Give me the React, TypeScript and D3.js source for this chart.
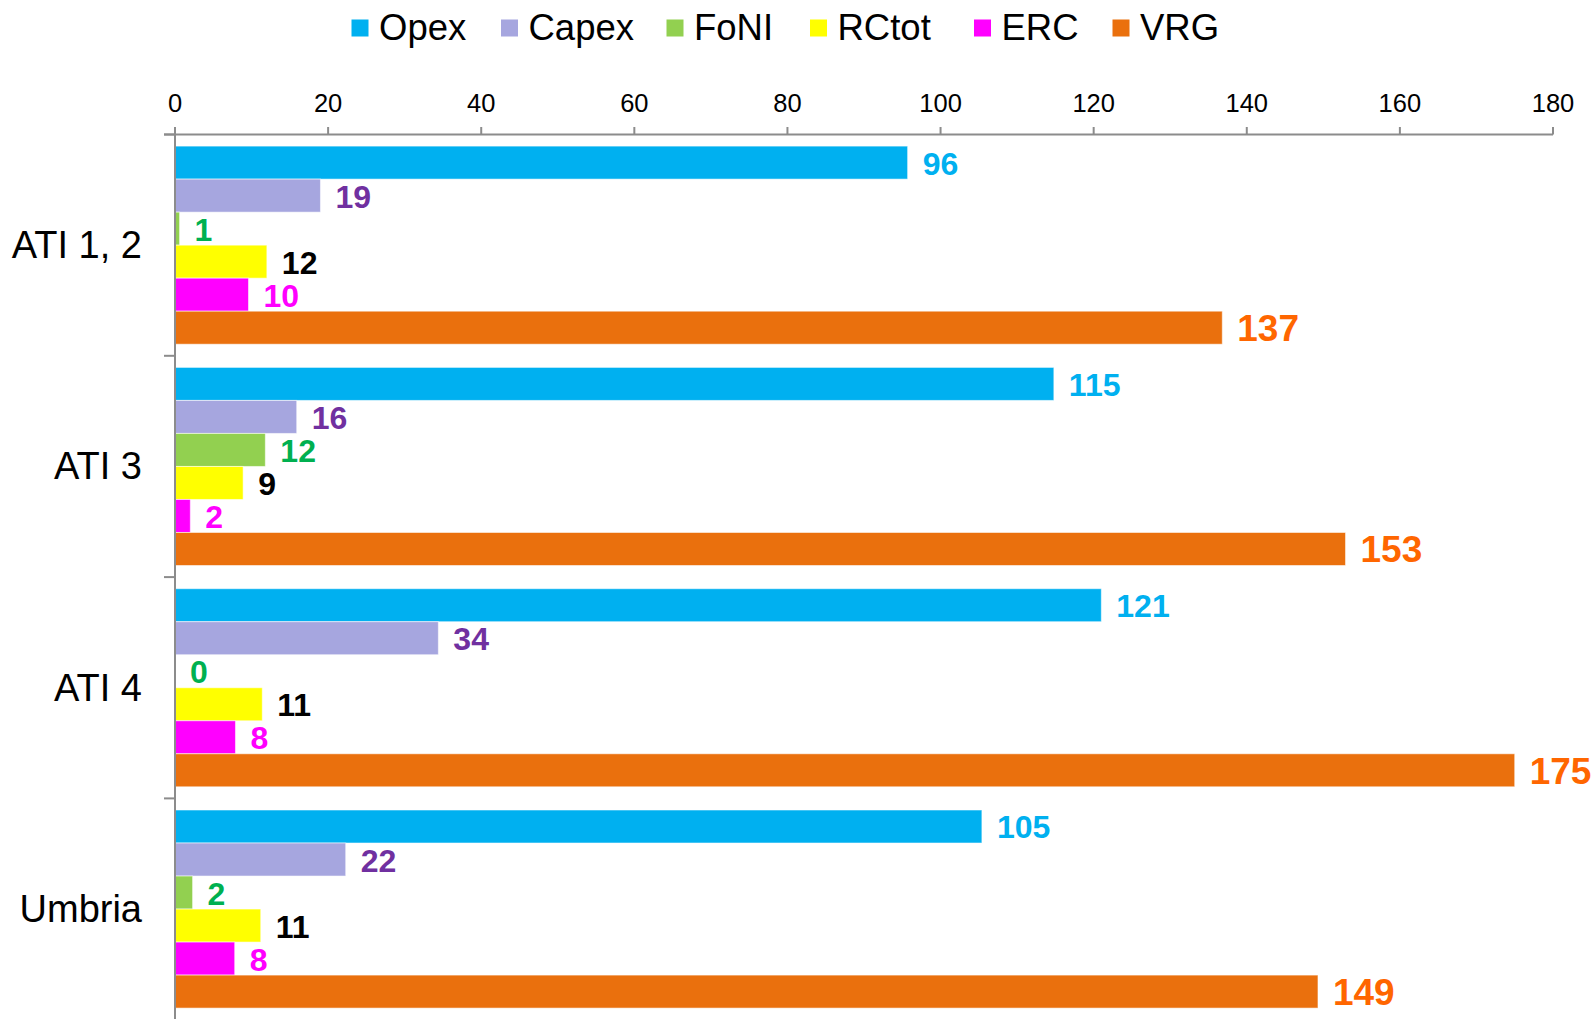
import React from "react";
import * as d3 from "d3";

const categories = ["ATI 1, 2", "ATI 3", "ATI 4", "Umbria"];
const seriesNames = ["Opex", "Capex", "FoNI", "RCtot", "ERC", "VRG"];
const opex = [95.7, 114.8, 121, 105.4];
const capex = [19, 15.9, 34.4, 22.3];
const foni = [0.6, 11.8, 0, 2.3];
const rctot = [12, 8.9, 11.4, 11.2];
const erc = [9.6, 2, 7.9, 7.8];
const vrg = [136.8, 152.9, 175, 149.3];
const xTicks = [0, 20, 40, 60, 80, 100, 120, 140, 160, 180];

const barColors = ["#00B0F0", "#A6A6DF", "#92D050", "#FFFF00", "#FF00FF", "#EA700D"];
const labelColors = ["#00B0F0", "#7030A0", "#00B050", "#000000", "#FF00FF", "#FF6600"];
const legendX = [351.5, 501, 666.5, 810, 974, 1112.5];

const W = 1593;
const H = 1019;
const FONT = "'Liberation Sans', Arial, sans-serif";

export default function App() {
  const seriesValues = [opex, capex, foni, rctot, erc, vrg];
  const x = d3.scaleLinear().domain([0, 180]).range([175, 1553]);
  const y0 = d3.scaleBand().domain(categories).range([134.5, 134.5 + 4 * 221.3]).paddingInner(0).paddingOuter(0);
  const bw = y0.bandwidth();
  const y1 = d3.scaleBand().domain(seriesNames).range([11.6, bw - 11.6]).padding(0);
  const axisColor = "#8C8C8C";

  return (
    <svg width={W} height={H} style={{ position: "absolute", left: 0, top: 0, background: "#fff" }} fontFamily={FONT}>
      {/* legend */}
      {seriesNames.map((s, i) => (
        <g key={s}>
          <rect x={legendX[i]} y={19.5} width={17} height={17} fill={barColors[i]} />
          <text x={legendX[i] + 27.5} y={39.5} fontSize={36.5} fill="#000">{s}</text>
        </g>
      ))}

      {/* bars */}
      {categories.map((c, ci) => (
        <g key={c} transform={`translate(0,${y0(c)})`}>
          {seriesNames.map((s, si) => {
            const v = seriesValues[si][ci];
            const yy = y1(s) as number;
            const h = y1.bandwidth();
            const isV = si === 5;
            return (
              <g key={s}>
                {v > 0 && (
                  <rect x={x(0)} y={yy} width={x(v) - x(0)} height={h} fill={barColors[si]} stroke="rgba(255,255,255,0.55)" strokeWidth={1} />
                )}
                <text
                  x={x(v) + 15}
                  y={yy + h / 2 + 1}
                  dominantBaseline="central"
                  fontSize={isV ? 37 : 32}
                  fontWeight="bold"
                  fill={labelColors[si]}
                >
                  {Math.round(v)}
                </text>
              </g>
            );
          })}
          <text x={142} y={bw / 2} dominantBaseline="central" textAnchor="end" fontSize={38} fill="#000">{c}</text>
        </g>
      ))}

      {/* x axis (top) */}
      <line x1={164} x2={x(180)} y1={134.5} y2={134.5} stroke={axisColor} strokeWidth={2} />
      {xTicks.map((t) => (
        <g key={t}>
          <line x1={x(t)} x2={x(t)} y1={127} y2={134.5} stroke={axisColor} strokeWidth={2} />
          <text x={x(t)} y={111.5} textAnchor="middle" fontSize={25.5} fill="#000">{t}</text>
        </g>
      ))}

      {/* y axis */}
      <line x1={x(0)} x2={x(0)} y1={127} y2={H} stroke={axisColor} strokeWidth={2} />
      {categories.map((c) => (
        <line key={c} x1={164} x2={x(0)} y1={(y0(c) as number)} y2={(y0(c) as number)} stroke={axisColor} strokeWidth={2} />
      ))}
    </svg>
  );
}
